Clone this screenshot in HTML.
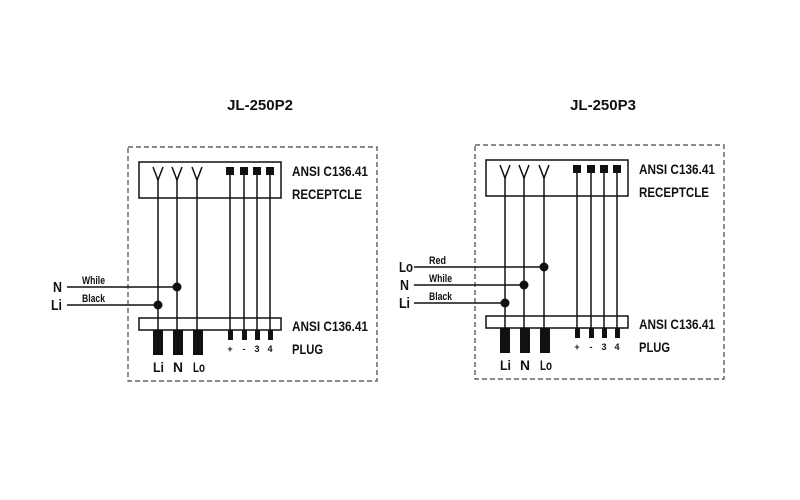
<!DOCTYPE html>
<html><head><meta charset="utf-8"><style>
html,body{margin:0;padding:0;background:#fff;}
svg{display:block;}
text{font-family:"Liberation Sans Narrow","Liberation Sans",sans-serif;font-weight:bold;fill:#111;}
</style></head><body>
<svg width="800" height="500" viewBox="0 0 800 500" xmlns="http://www.w3.org/2000/svg">
<defs>
<g id="unit" stroke="#111" fill="none">
  <rect x="128" y="147" width="249" height="234" stroke-dasharray="5,3" stroke-width="1.2" stroke="#444"/>
  <rect x="139" y="162" width="142" height="36" stroke-width="1.5"/>
  <rect x="139" y="318" width="142" height="12" stroke-width="1.5"/>
  <g stroke-width="1.5">
    <path d="M153 167 L158 180 L163 167 M172 167 L177 180 L182 167 M192 167 L197 180 L202 167"/>
    <line x1="158" y1="178" x2="158" y2="330"/>
    <line x1="177" y1="178" x2="177" y2="330"/>
    <line x1="197" y1="178" x2="197" y2="330"/>
    <line x1="230" y1="170" x2="230" y2="338"/>
    <line x1="244" y1="170" x2="244" y2="338"/>
    <line x1="257" y1="170" x2="257" y2="338"/>
    <line x1="270" y1="170" x2="270" y2="338"/>
  </g>
  <g fill="#111" stroke="none">
    <rect x="226" y="167" width="8" height="8"/><rect x="240" y="167" width="8" height="8"/>
    <rect x="253" y="167" width="8" height="8"/><rect x="266" y="167" width="8" height="8"/>
    <rect x="153" y="330" width="10" height="25"/><rect x="173" y="330" width="10" height="25"/>
    <rect x="193" y="330" width="10" height="25"/>
    <rect x="228" y="330" width="5" height="10"/><rect x="242" y="330" width="5" height="10"/>
    <rect x="255" y="330" width="5" height="10"/><rect x="268" y="330" width="5" height="10"/>
  </g>
  <g stroke="none">
    <text x="292" y="176" font-size="14" textLength="76" lengthAdjust="spacingAndGlyphs">ANSI C136.41</text>
    <text x="292" y="199" font-size="14" textLength="70" lengthAdjust="spacingAndGlyphs">RECEPTCLE</text>
    <text x="292" y="331" font-size="14" textLength="76" lengthAdjust="spacingAndGlyphs">ANSI C136.41</text>
    <text x="292" y="354" font-size="14" textLength="31" lengthAdjust="spacingAndGlyphs">PLUG</text>
    <text x="230" y="352" font-size="9" text-anchor="middle">+</text>
    <text x="244" y="352" font-size="9" text-anchor="middle">-</text>
    <text x="257" y="352" font-size="9" text-anchor="middle">3</text>
    <text x="270" y="352" font-size="9" text-anchor="middle">4</text>
    <text x="153" y="372" font-size="14" textLength="11" lengthAdjust="spacingAndGlyphs">Li</text>
    <text x="173" y="372" font-size="14" textLength="10" lengthAdjust="spacingAndGlyphs">N</text>
    <text x="193" y="372" font-size="14" textLength="12" lengthAdjust="spacingAndGlyphs">Lo</text>
  </g>
</g>
</defs>
<text x="260" y="110" font-size="15" text-anchor="middle" font-family="Liberation Sans">JL-250P2</text>
<text x="603" y="110" font-size="15" text-anchor="middle" font-family="Liberation Sans">JL-250P3</text>

<use href="#unit"/>
<g stroke="#111" stroke-width="1.5">
  <line x1="67" y1="287" x2="177" y2="287"/>
  <line x1="67" y1="305" x2="158" y2="305"/>
</g>
<circle cx="177" cy="287" r="4.5" fill="#111"/>
<circle cx="158" cy="305" r="4.5" fill="#111"/>
<text x="82" y="284" font-size="11" textLength="23" lengthAdjust="spacingAndGlyphs">While</text>
<text x="82" y="302" font-size="11" textLength="23" lengthAdjust="spacingAndGlyphs">Black</text>
<text x="53" y="292" font-size="15" textLength="9" lengthAdjust="spacingAndGlyphs">N</text>
<text x="51" y="310" font-size="15" textLength="11" lengthAdjust="spacingAndGlyphs">Li</text>

<g transform="translate(347,-2)"><use href="#unit"/></g>
<g stroke="#111" stroke-width="1.5">
  <line x1="414" y1="267" x2="544" y2="267"/>
  <line x1="414" y1="285" x2="524" y2="285"/>
  <line x1="414" y1="303" x2="505" y2="303"/>
</g>
<circle cx="544" cy="267" r="4.5" fill="#111"/>
<circle cx="524" cy="285" r="4.5" fill="#111"/>
<circle cx="505" cy="303" r="4.5" fill="#111"/>
<text x="429" y="264" font-size="11" textLength="17" lengthAdjust="spacingAndGlyphs">Red</text>
<text x="429" y="282" font-size="11" textLength="23" lengthAdjust="spacingAndGlyphs">While</text>
<text x="429" y="300" font-size="11" textLength="23" lengthAdjust="spacingAndGlyphs">Black</text>
<text x="399" y="272" font-size="15" textLength="14" lengthAdjust="spacingAndGlyphs">Lo</text>
<text x="400" y="290" font-size="15" textLength="9" lengthAdjust="spacingAndGlyphs">N</text>
<text x="399" y="308" font-size="15" textLength="11" lengthAdjust="spacingAndGlyphs">Li</text>
</svg>
</body></html>
